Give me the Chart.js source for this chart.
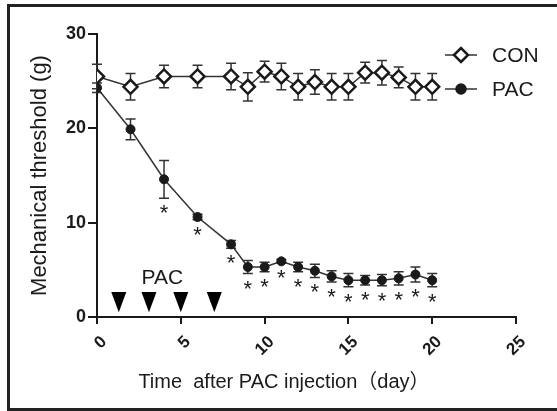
<!DOCTYPE html>
<html>
<head>
<meta charset="utf-8">
<script src="https://cdn.jsdelivr.net/npm/chart.js@4.4.1/dist/chart.umd.min.js"></script>
<style>
  html, body { margin: 0; padding: 0; background: #fff; }
  #wrap { width: 557px; height: 411px; }
</style>
</head>
<body>
<div id="wrap"><canvas id="threshold-chart" width="557" height="411"></canvas></div>
<script>
// values
const days = [0, 2, 4, 6, 8, 9, 10, 11, 12, 13, 14, 15, 16, 17, 18, 19, 20];
const conMean = [25.5, 24.4, 25.5, 25.5, 25.5, 24.4, 26.0, 25.5, 24.4, 24.9, 24.4, 24.4, 25.9, 25.9, 25.4, 24.4, 24.4];
const conErr  = [1.3, 1.4, 1.2, 1.2, 1.4, 1.5, 1.1, 1.4, 1.4, 1.3, 1.4, 1.4, 1.1, 1.3, 1.1, 1.4, 1.4];
const pacMean = [24.3, 19.9, 14.6, 10.6, 7.7, 5.3, 5.3, 5.9, 5.3, 4.9, 4.3, 3.9, 3.9, 3.9, 4.1, 4.5, 3.9];
const pacErr  = [0.5, 1.1, 2.0, 0.3, 0.4, 0.7, 0.5, 0.2, 0.5, 0.7, 0.6, 0.7, 0.5, 0.6, 0.7, 0.8, 0.7];
const pacSig  = [false, false, true, true, true, true, true, true, true, true, true, true, true, true, true, true, true];
const injectionDays = [1.3, 3.1, 5, 7];
const xTicks = [0, 5, 10, 15, 20, 25];
const yTicks = [0, 10, 20, 30];

const FONT = "'Liberation Sans', Arial, sans-serif";
const INK = '#1a1a1a';

// error bars (drawn under the markers) and significance stars
const errorBars = {
  id: 'errorBars',
  beforeDatasetsDraw(chart) {
    const { ctx, scales: { x, y } } = chart;
    const sets = [[conMean, conErr], [pacMean, pacErr]];
    ctx.save();
    ctx.strokeStyle = '#333';
    ctx.lineWidth = 1.5;
    sets.forEach(([m, e]) => {
      days.forEach((d, i) => {
        const px = x.getPixelForValue(d);
        const top = y.getPixelForValue(m[i] + e[i]);
        const bot = y.getPixelForValue(m[i] - e[i]);
        ctx.beginPath();
        ctx.moveTo(px, top); ctx.lineTo(px, bot);
        ctx.moveTo(px - 5, top); ctx.lineTo(px + 5, top);
        ctx.moveTo(px - 5, bot); ctx.lineTo(px + 5, bot);
        ctx.stroke();
      });
    });
    ctx.restore();
  },
  afterDatasetsDraw(chart) {
    const { ctx, scales: { x, y } } = chart;
    ctx.save();
    ctx.fillStyle = INK;
    ctx.font = '22px ' + FONT;
    ctx.textAlign = 'center';
    ctx.textBaseline = 'middle';
    days.forEach((d, i) => {
      if (!pacSig[i]) return;
      const px = x.getPixelForValue(d);
      const py = y.getPixelForValue(pacMean[i] - pacErr[i]) + 16;
      ctx.fillText('*', px, py);
    });
    ctx.restore();
  }
};

// injection arrows, legend, frame, x title
const decorations = {
  id: 'decorations',
  afterDraw(chart) {
    const { ctx, scales: { x, y } } = chart;
    ctx.save();

    // injection triangles
    ctx.fillStyle = '#000';
    injectionDays.forEach(d => {
      const px = x.getPixelForValue(d);
      const top = y.getPixelForValue(2.65);
      const tip = y.getPixelForValue(0.5);
      ctx.beginPath();
      ctx.moveTo(px - 7.5, top);
      ctx.lineTo(px + 7.5, top);
      ctx.lineTo(px, tip);
      ctx.closePath();
      ctx.fill();
    });
    ctx.fillStyle = INK;
    ctx.font = '21px ' + FONT;
    ctx.textAlign = 'center';
    ctx.textBaseline = 'middle';
    ctx.fillText('PAC', x.getPixelForValue(3.9), y.getPixelForValue(4.1));

    // legend
    const items = [
      { label: 'CON', y: 55, style: 'rectRot', fill: '#fff', r: 7 },
      { label: 'PAC', y: 89, style: 'circle', fill: INK, r: 4.5 }
    ];
    items.forEach(it => {
      ctx.strokeStyle = '#333';
      ctx.lineWidth = 1.5;
      ctx.beginPath();
      ctx.moveTo(445, it.y); ctx.lineTo(477, it.y);
      ctx.stroke();
      ctx.fillStyle = it.fill;
      ctx.strokeStyle = INK;
      ctx.lineWidth = 2.5;
      Chart.helpers.drawPoint(ctx, { pointStyle: it.style, radius: it.r, borderWidth: 2.5 }, 461, it.y);
      ctx.fillStyle = INK;
      ctx.font = '21px ' + FONT;
      ctx.textAlign = 'left';
      ctx.textBaseline = 'middle';
      ctx.fillText(it.label, 492, it.y + 1);
    });

    // x axis title
    ctx.font = "20px 'Liberation Sans', 'Noto Sans CJK SC', sans-serif";
    ctx.textAlign = 'center';
    ctx.textBaseline = 'middle';
    ctx.fillText('Time  after PAC injection（day）', 284, 382);

    // frame (right edge is cut off in the figure)
    ctx.strokeStyle = '#222';
    ctx.lineWidth = 3;
    ctx.beginPath();
    ctx.moveTo(557, 5.5); ctx.lineTo(8.5, 5.5); ctx.lineTo(8.5, 409.5); ctx.lineTo(557, 409.5);
    ctx.stroke();
    ctx.restore();
  }
};

new Chart(document.getElementById('threshold-chart'), {
  type: 'line',
  data: {
    datasets: [{
      label: 'CON',
      data: days.map((d, i) => ({ x: d, y: conMean[i] })),
      borderColor: '#333',
      borderWidth: 1.5,
      pointStyle: 'rectRot',
      pointRadius: 7,
      pointBorderWidth: 2.5,
      pointBorderColor: INK,
      pointBackgroundColor: '#fff'
    }, {
      label: 'PAC',
      data: days.map((d, i) => ({ x: d, y: pacMean[i] })),
      borderColor: '#333',
      borderWidth: 1.5,
      pointStyle: 'circle',
      pointRadius: 4.5,
      pointBorderWidth: 1,
      pointBorderColor: INK,
      pointBackgroundColor: INK
    }]
  },
  options: {
    responsive: false,
    animation: false,
    devicePixelRatio: 1,
    layout: { padding: { left: 0, right: 41, top: 34, bottom: 0 } },
    plugins: {
      legend: { display: false },
      tooltip: { enabled: false }
    },
    scales: {
      x: {
        type: 'linear',
        min: 0,
        max: 25,
        afterBuildTicks: s => { s.ticks = xTicks.map(v => ({ value: v })); },
        afterFit: s => { s.height = 94; },
        border: { display: true, color: INK, width: 2 },
        grid: { drawOnChartArea: false, drawTicks: true, tickLength: 7, color: INK, lineWidth: 2 },
        ticks: {
          color: INK,
          font: { family: FONT, size: 17, weight: 'bold' },
          minRotation: 45,
          maxRotation: 45,
          padding: 8,
          labelOffset: 7
        }
      },
      y: {
        min: 0,
        max: 30,
        afterBuildTicks: s => { s.ticks = yTicks.map(v => ({ value: v })); },
        afterFit: s => { s.width = 97; },
        border: { display: true, color: INK, width: 2 },
        grid: { drawOnChartArea: false, drawTicks: true, tickLength: 9, color: INK, lineWidth: 2 },
        ticks: {
          color: INK,
          font: { family: FONT, size: 18, weight: 'bold' },
          padding: 2
        },
        title: {
          display: true,
          text: 'Mechanical threshold (g)',
          color: INK,
          font: { family: FONT, size: 22 },
          padding: { top: 27, bottom: 0 }
        }
      }
    }
  },
  plugins: [errorBars, decorations]
});
</script>
</body>
</html>
